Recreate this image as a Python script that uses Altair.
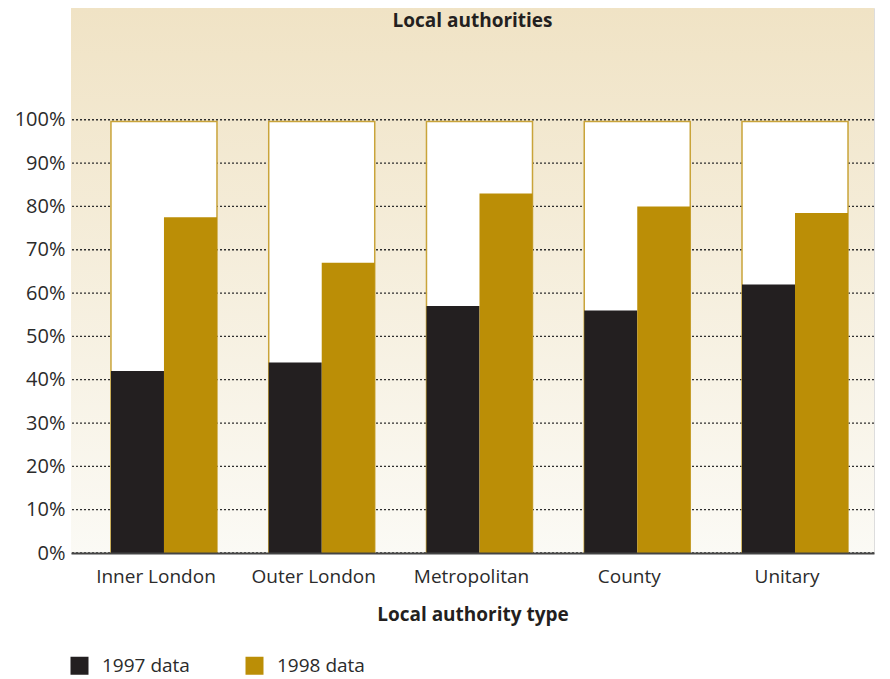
import altair as alt
import pandas as pd

# ---------------- data ----------------
categories = ["Inner London", "Outer London", "Metropolitan", "County", "Unitary"]
series = ["1997 data", "1998 data"]
values_1997 = [42, 44, 57, 56, 62]
values_1998 = [77.5, 67, 83, 80, 78.5]
outline_top = [99.6, 99.6, 99.6, 99.6, 99.6]
tick_values = [0, 10, 20, 30, 40, 50, 60, 70, 80, 90, 100]
chart_title = "Local authorities"
x_title = "Local authority type"

rows = []
for c, a, b in zip(categories, values_1997, values_1998):
    rows.append({"type": c, "series": series[0], "value": a})
    rows.append({"type": c, "series": series[1], "value": b})
df = pd.DataFrame(rows)
outline_df = pd.DataFrame({"type": categories, "top": outline_top})
grid_df = pd.DataFrame({"tick": tick_values})

# ---------------- layout ----------------
W, H = 803, 545
YMAX = 125.8
FONT = "Open Sans"
BLACK = "#231f20"
GOLD = "#bb8e06"

x_scale = alt.Scale(domain=categories, paddingInner=0.328, paddingOuter=0.209, align=0.606)
y_scale = alt.Scale(domain=[0, YMAX], nice=False, zero=True)

y_axis = alt.Axis(values=tick_values, labelExpr="datum.value + '%'", grid=False,
                  domain=False, ticks=False, labelFontSize=20, labelFont=FONT,
                  labelColor="#2b2b2b", labelPadding=6, title=None)
x_axis = alt.Axis(title=x_title, titleFont=FONT, titleFontSize=19, titleFontWeight="bold",
                  titleColor=BLACK, titlePadding=19, labelFontSize=19, labelFont=FONT,
                  labelColor="#2b2b2b", labelPadding=14, labelOffset=-8, ticks=False,
                  domainColor="#444444", domainWidth=2, labelAngle=0, grid=False, zindex=1)

X = alt.X("type:N", scale=x_scale, axis=x_axis, sort=categories)

bg = alt.Chart(alt.Data(values=[{}])).mark_rect(
    fill=alt.Gradient(gradient="linear",
                      stops=[alt.GradientStop(color="#f0e3c5", offset=0),
                             alt.GradientStop(color="#fbfaf5", offset=1)],
                      x1=0, x2=0, y1=0, y2=1)
).encode(x=alt.value(0), x2=alt.value(W), y=alt.value(0), y2=alt.value(H))

grid = alt.Chart(grid_df).mark_rule(color="#2e2e2e", strokeDash=[2, 2], strokeWidth=1.3).encode(
    y=alt.Y("tick:Q", scale=y_scale, axis=y_axis)
)

outline = alt.Chart(outline_df).mark_bar(fill="white", stroke="#c9a43a", strokeWidth=1.5).encode(
    x=X,
    y=alt.Y("top:Q", scale=y_scale, axis=y_axis),
)

bars = alt.Chart(df).mark_bar().encode(
    x=X,
    xOffset=alt.XOffset("series:N", sort=series,
                        scale=alt.Scale(domain=series, paddingInner=0, paddingOuter=0)),
    y=alt.Y("value:Q", scale=y_scale, axis=y_axis),
    color=alt.Color("series:N", scale=alt.Scale(domain=series, range=[BLACK, GOLD]),
                    legend=alt.Legend(title=None, orient="none", legendX=-1, legendY=648,
                                      direction="horizontal", symbolType="square",
                                      symbolSize=324, symbolStrokeWidth=0,
                                      labelFontSize=19, labelFont=FONT, labelColor="#2b2b2b",
                                      labelOffset=13, columnPadding=55)),
)

title = alt.Chart(alt.Data(values=[{}])).mark_text(
    text=chart_title, font=FONT, fontSize=19, fontWeight="bold", color=BLACK,
    baseline="middle", align="center"
).encode(x=alt.value(W / 2), y=alt.value(12.5))

chart = alt.layer(bg, grid, outline, bars, title).properties(
    width=W, height=H,
    padding={"left": 63, "top": 0, "right": 8, "bottom": 124},
    autosize=alt.AutoSizeParams(type="none"),
).configure_view(stroke=None).configure(background="white")

chart.save("out.html", embed_options={"renderer": "svg", "actions": False})
